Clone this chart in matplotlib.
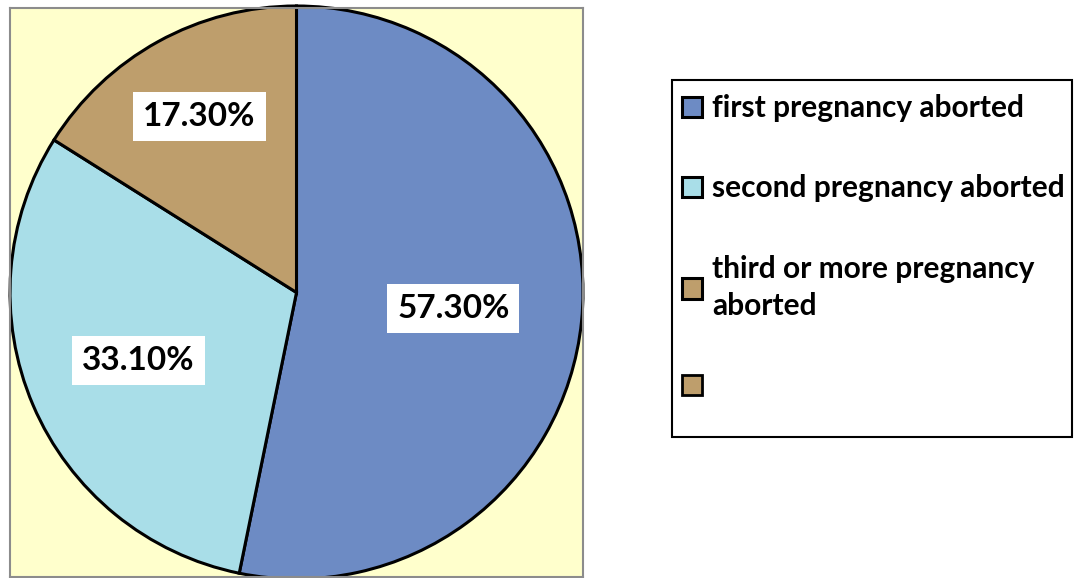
import matplotlib
matplotlib.use('Agg')
import numpy as np
from matplotlib import pyplot as plt
from matplotlib.patches import Patch, Rectangle

categories = ['first pregnancy aborted', 'second pregnancy aborted',
              'third or more pregnancy\naborted', '']
values = [57.30, 33.10, 17.30]
value_labels = ['57.30%', '33.10%', '17.30%']

slice_colors = ['#6D8BC4', '#A9DEE8', '#BE9E6C']
label_dist = [0.55, 0.6, 0.7]

plt.rcParams['font.family'] = ['Lato', 'DejaVu Sans']

fig = plt.figure(figsize=(10.77, 5.78), dpi=100)
ax = fig.add_axes([10 / 1077, 1 / 578, 573 / 1077, 569 / 578])

wedges, _ = ax.pie(values, colors=slice_colors, startangle=90, counterclock=False,
                   wedgeprops=dict(edgecolor='black', linewidth=2.2))
ax.set_aspect('auto')
ax.set_xlim(-1, 1)
ax.set_ylim(-0.993, 0.993)
ax.set_frame_on(True)
ax.set_facecolor('#FFFFCC')
for sp in ax.spines.values():
    sp.set_color('#8C8C8C')
    sp.set_linewidth(1.5)

for w, lab, d in zip(wedges, value_labels, label_dist):
    th = np.deg2rad((w.theta1 + w.theta2) / 2)
    ax.text(d * np.cos(th), d * np.sin(th), lab, ha='center', va='center',
            fontsize=24, fontweight='bold',
            bbox=dict(boxstyle='square,pad=0.3', facecolor='white', edgecolor='none'))

handles = list(wedges) + [Patch(facecolor=slice_colors[2], edgecolor='black', linewidth=2)]
leg = fig.legend(handles, categories, loc='upper left', bbox_to_anchor=(0.633, 0.837),
                 frameon=False, prop=dict(weight='bold', size=21.5),
                 handlelength=0.67, handleheight=0.67, handletextpad=0.35,
                 labelspacing=1.75, borderpad=0, borderaxespad=0)
for t in leg.get_texts():
    t.set_linespacing(1.4)

fig.add_artist(Rectangle((672 / 1077, 1 - 437 / 578), 400 / 1077, 357 / 578,
                         transform=fig.transFigure, fill=False,
                         edgecolor='black', linewidth=1.5))

fig.savefig('out.png', dpi=100)
